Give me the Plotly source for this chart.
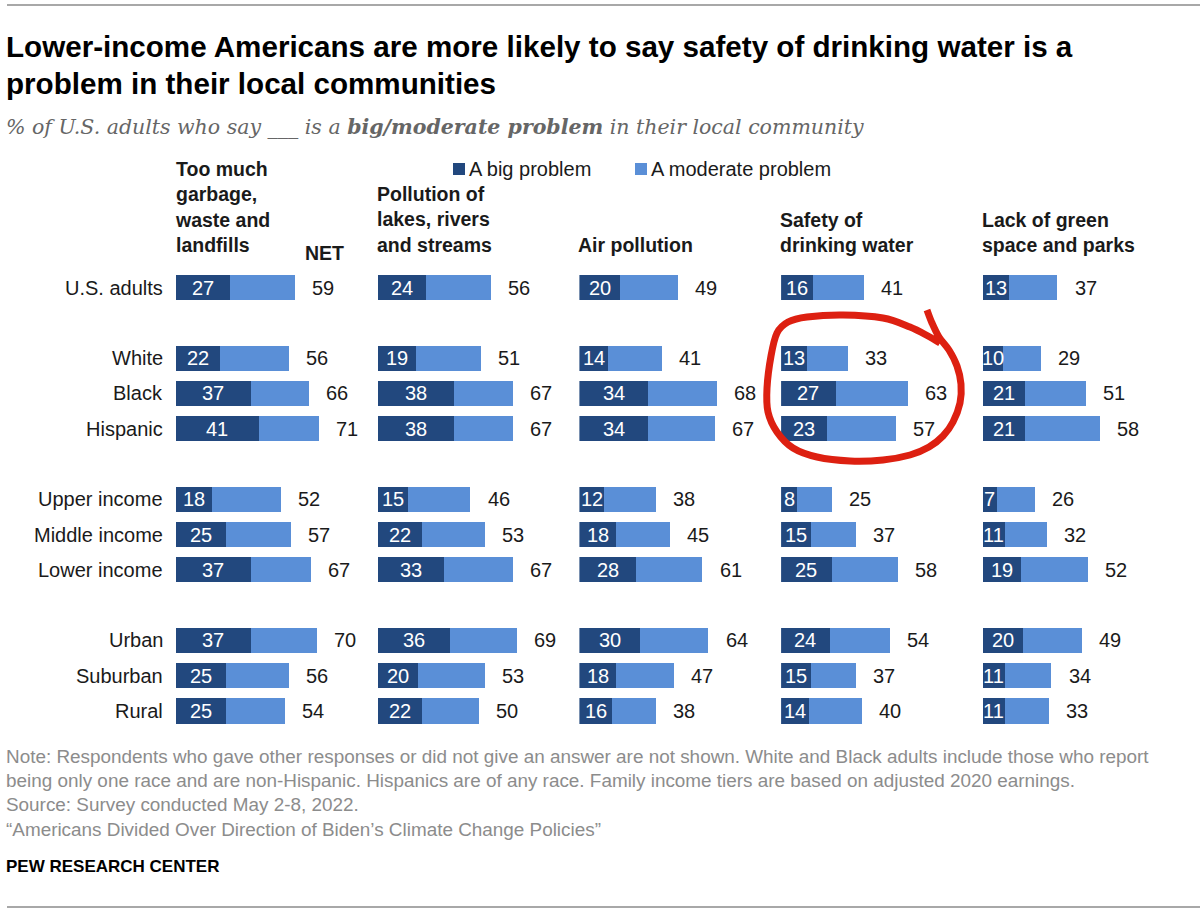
import plotly.graph_objects as go

# ---------------- data ----------------
groups = [
    ["U.S. adults"],
    ["White", "Black", "Hispanic"],
    ["Upper income", "Middle income", "Lower income"],
    ["Urban", "Suburban", "Rural"],
]
topics = [
    "Too much<br>garbage,<br>waste and<br>landfills",
    "Pollution of<br>lakes, rivers<br>and streams",
    "Air pollution",
    "Safety of<br>drinking water",
    "Lack of green<br>space and parks",
]
big_problem = [
    [27, 22, 37, 41, 18, 25, 37, 37, 25, 25],
    [24, 19, 38, 38, 15, 22, 33, 36, 20, 22],
    [20, 14, 34, 34, 12, 18, 28, 30, 18, 16],
    [16, 13, 27, 23, 8, 15, 25, 24, 15, 14],
    [13, 10, 21, 21, 7, 11, 19, 20, 11, 11],
]
net_problem = [
    [59, 56, 66, 71, 52, 57, 67, 70, 56, 54],
    [56, 51, 67, 67, 46, 53, 67, 69, 53, 50],
    [49, 41, 68, 67, 38, 45, 61, 64, 47, 38],
    [41, 33, 63, 57, 25, 37, 58, 54, 37, 40],
    [37, 29, 51, 58, 26, 32, 52, 49, 34, 33],
]
legend_labels = ["A big problem", "A moderate problem"]

title_lines = [
    "Lower-income Americans are more likely to say safety of drinking water is a",
    "problem in their local communities",
]
subtitle = "% of U.S. adults who say ___ is a <b>big/moderate problem</b> in their local community"
note_lines = [
    "Note: Respondents who gave other responses or did not give an answer are not shown. White and Black adults include those who report",
    "being only one race and are non-Hispanic. Hispanics are of any race. Family income tiers are based on adjusted 2020 earnings.",
    "Source: Survey conducted May 2-8, 2022.",
    "\u201cAmericans Divided Over Direction of Biden\u2019s Climate Change Policies\u201d",
]

# ---------------- style ----------------
W, H = 1200, 915
DARK = "#22487e"
LIGHT = "#5a8fd7"
RED = "#dd2011"
TXT = "#1a1a1a"
GRAY = "#8c8c8c"
SANS = "Liberation Sans, Arial, sans-serif"
NARROW = "Liberation Sans Narrow, Liberation Sans, Arial, sans-serif"
SERIF = "DejaVu Serif, Georgia, serif"

PANEL_X0 = 176.0
PANEL_W = 201.7
ROW0_PX, ROW_STEP = 287.5, 35.29


def px(x, y):
    return x / W, 1 - y / H


rows, ypos = [], []
p = 0
for g in groups:
    for r in g:
        rows.append(r)
        ypos.append(p)
        p += 1
    p += 1
ymax = ypos[-1]

fig = go.Figure()
annotations = []
layout_axes = {}

for i in range(len(topics)):
    xa = "x" if i == 0 else f"x{i+1}"
    big = big_problem[i]
    net = net_problem[i]
    moderate = [n - b for n, b in zip(net, big)]
    fig.add_trace(go.Bar(x=big, y=ypos, base=0, orientation="h", width=0.71,
                         marker=dict(color=DARK, line=dict(width=0)),
                         xaxis=xa, yaxis="y", showlegend=False, hoverinfo="skip"))
    fig.add_trace(go.Bar(x=moderate, y=ypos, base=big, orientation="h", width=0.71,
                         marker=dict(color=LIGHT, line=dict(width=0)),
                         xaxis=xa, yaxis="y", showlegend=False, hoverinfo="skip"))
    for b, n, yp in zip(big, net, ypos):
        annotations.append(dict(x=b / 2, y=yp, xref=xa, yref="y", text=str(b),
                                showarrow=False, font=dict(family=SANS, size=20, color="white"),
                                xanchor="center", yanchor="middle"))
        annotations.append(dict(x=n + 7.5, y=yp, xref=xa, yref="y", text=str(n),
                                showarrow=False, font=dict(family=SANS, size=20, color=TXT),
                                xanchor="left", yanchor="middle"))
    annotations.append(dict(x=0, xshift=-3, y=1 - 258 / H, xref=xa, yref="paper",
                            text=f"<b>{topics[i]}</b>", showarrow=False, align="left",
                            font=dict(family=SANS, size=19.5, color=TXT),
                            xanchor="left", yanchor="bottom"))
    x0 = PANEL_X0 + PANEL_W * i
    key = "xaxis" if i == 0 else f"xaxis{i+1}"
    layout_axes[key] = dict(domain=[x0 / W, (x0 + PANEL_W) / W], range=[0, 100],
                            visible=False, fixedrange=True, anchor="y")

# row labels
for r, yp in zip(rows, ypos):
    annotations.append(dict(x=165 / W, y=yp, xref="paper", yref="y", text=r,
                            showarrow=False, font=dict(family=SANS, size=20, color=TXT),
                            xanchor="right", yanchor="middle"))

# NET header
annotations.append(dict(x=324 / W, y=1 - 253 / H, xref="paper", yref="paper", text="<b>NET</b>",
                        showarrow=False, font=dict(family=SANS, size=19.5, color=TXT),
                        xanchor="center", yanchor="middle"))

shapes = []
# legend
for lx, col, lab in [(453, DARK, legend_labels[0]), (635, LIGHT, legend_labels[1])]:
    sx0, sy0 = px(lx, 163)
    sx1, sy1 = px(lx + 12, 175)
    shapes.append(dict(type="rect", xref="paper", yref="paper", x0=sx0, x1=sx1, y0=sy1, y1=sy0,
                       fillcolor=col, line=dict(width=0)))
    annotations.append(dict(x=(lx + 14) / W, y=1 - 169 / H, xref="paper", yref="paper",
                            text=lab, showarrow=False, font=dict(family=SANS, size=20, color=TXT),
                            xanchor="left", yanchor="middle"))

# titles
for k, (line, yc) in enumerate(zip(title_lines, [47, 84])):
    annotations.append(dict(x=4 / W, y=1 - yc / H, xref="paper", yref="paper",
                            text=f"<b>{line}</b>", showarrow=False,
                            font=dict(family=NARROW, size=29.6, color="#000000"),
                            xanchor="left", yanchor="middle"))
annotations.append(dict(x=4 / W, y=1 - 127 / H, xref="paper", yref="paper",
                        text=f"<i>{subtitle}</i>", showarrow=False,
                        font=dict(family=SERIF, size=20.5, color="#666666"),
                        xanchor="left", yanchor="middle"))

# notes
for line, yc in zip(note_lines, [756, 780, 804, 829]):
    annotations.append(dict(x=4 / W, y=1 - yc / H, xref="paper", yref="paper",
                            text=line, showarrow=False,
                            font=dict(family=NARROW, size=18.9, color=GRAY),
                            xanchor="left", yanchor="middle"))
annotations.append(dict(x=4 / W, y=1 - 866 / H, xref="paper", yref="paper",
                        text="<b>PEW RESEARCH CENTER</b>", showarrow=False,
                        font=dict(family=SANS, size=17, color="#000000"),
                        xanchor="left", yanchor="middle"))

# rules and hand-drawn red loop
for yl in [5, 907]:
    x0p, y0p = px(7, yl)
    shapes.append(dict(type="line", xref="paper", yref="paper", x0=x0p, x1=1, y0=y0p, y1=y0p,
                       line=dict(color="#a8a8a8", width=2)))

loop = [(927, 310), (932, 323), (939, 337), (949, 350), (957, 366), (961, 384), (960, 403),
        (953, 422), (943, 436), (929, 447), (910, 455), (883, 460), (850, 461), (817, 457),
        (793, 448), (777, 432), (768, 412), (767, 388), (771, 356), (777, 333), (788, 322),
        (807, 317), (843, 315), (883, 318), (910, 327), (928, 336), (940, 343)]


def smooth_path(pts):
    pp = [px(*q) for q in pts]
    d = f"M {pp[0][0]:.5f},{pp[0][1]:.5f}"
    for j in range(len(pp) - 1):
        p0 = pp[j - 1] if j > 0 else pp[j]
        p1, p2 = pp[j], pp[j + 1]
        p3 = pp[j + 2] if j + 2 < len(pp) else pp[j + 1]
        c1 = (p1[0] + (p2[0] - p0[0]) / 6, p1[1] + (p2[1] - p0[1]) / 6)
        c2 = (p2[0] - (p3[0] - p1[0]) / 6, p2[1] - (p3[1] - p1[1]) / 6)
        d += f" C {c1[0]:.5f},{c1[1]:.5f} {c2[0]:.5f},{c2[1]:.5f} {p2[0]:.5f},{p2[1]:.5f}"
    return d


shapes.append(dict(type="path", xref="paper", yref="paper", path=smooth_path(loop),
                   line=dict(color=RED, width=7)))

y_top_px = ROW0_PX - ROW_STEP
y_bot_px = ROW0_PX + ROW_STEP * (ymax + 1)

fig.update_layout(
    width=W, height=H,
    margin=dict(l=0, r=0, t=0, b=0),
    paper_bgcolor="white", plot_bgcolor="white",
    barmode="overlay", bargap=0,
    yaxis=dict(domain=[1 - y_bot_px / H, 1 - y_top_px / H], range=[ymax + 1, -1],
               visible=False, fixedrange=True),
    annotations=annotations,
    shapes=shapes,
    showlegend=False,
    **layout_axes,
)

fig.write_html("out.html",
               config={"displayModeBar": False, "staticPlot": True},
               post_script="document.body.style.margin='0';document.body.style.overflow='hidden';")
